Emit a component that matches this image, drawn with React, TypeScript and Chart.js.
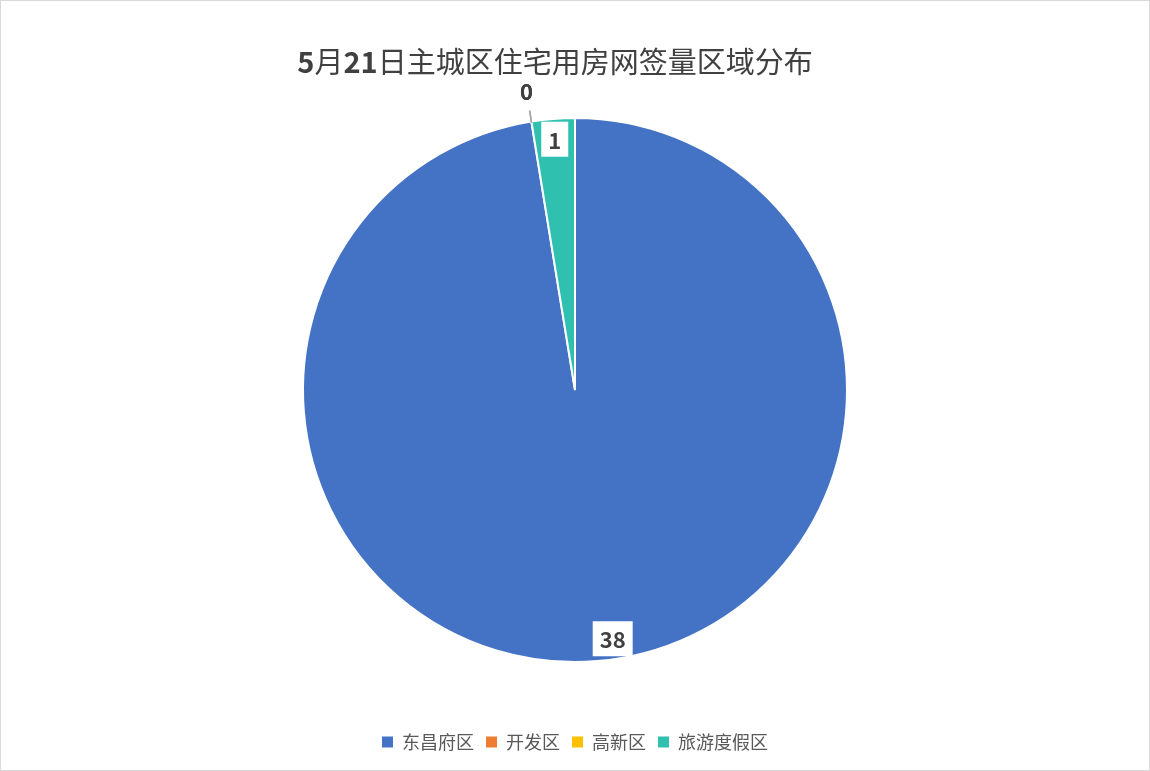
import { useEffect, useRef } from "react";
import { Chart, registerables } from "chart.js";

Chart.register(...registerables);

const districts = ["东昌府区", "开发区", "高新区", "旅游度假区"];
const signedCounts = [38, 0, 0, 1];
const sliceColors = ["#4472C4", "#ED7D31", "#FFC000", "#2FC0B0"];
// small angular nudge (degrees) for the label, like Excel's best-fit placement
const labelAngleShift = [-4, 0, 0, 0];
const titleParts: [string, boolean][] = [
  ["5", true],
  ["月", false],
  ["21", true],
  ["日主城区住宅用房网签量区域分布", false],
];

const FONT = '"Noto Sans CJK SC", "Noto Sans", sans-serif';

const titlePlugin = {
  id: "mixedTitle",
  afterDraw(chart: any) {
    const ctx = chart.ctx;
    ctx.save();
    ctx.fillStyle = "#404040";
    ctx.textBaseline = "middle";
    ctx.textAlign = "left";
    const widths = titleParts.map(([t, b]) => {
      ctx.font = `${b ? "bold" : "normal"} 29px ${FONT}`;
      return ctx.measureText(t).width;
    });
    const total = widths.reduce((a, b) => a + b, 0);
    let x = 554 - total / 2;
    titleParts.forEach(([t, b], i) => {
      ctx.font = `${b ? "bold" : "normal"} 29px ${FONT}`;
      ctx.fillText(t, x, 61);
      x += widths[i];
    });
    ctx.restore();
  },
};

const labelPlugin = {
  id: "sliceLabels",
  afterDatasetsDraw(chart: any) {
    const ctx = chart.ctx;
    const meta = chart.getDatasetMeta(0);
    ctx.save();
    ctx.font = `bold 22px ${FONT}`;
    ctx.textAlign = "center";
    ctx.textBaseline = "middle";
    meta.data.forEach((arc: any, i: number) => {
      const { x, y, startAngle, endAngle, outerRadius } = arc.getProps(
        ["x", "y", "startAngle", "endAngle", "outerRadius"],
        true
      );
      const v = signedCounts[i];
      const mid = (startAngle + endAngle) / 2 + (labelAngleShift[i] * Math.PI) / 180;
      const cos = Math.cos(mid);
      const sin = Math.sin(mid);
      const text = String(v);
      if (v > 0) {
        const r = outerRadius * 0.925;
        const lx = x + cos * r;
        const ly = y + sin * r;
        const w = ctx.measureText(text).width + 14;
        const h = 35;
        ctx.fillStyle = "#ffffff";
        ctx.fillRect(lx - w / 2, ly - h / 2, w, h);
        ctx.fillStyle = "#404040";
        ctx.fillText(text, lx, ly + 1);
      } else {
        ctx.strokeStyle = "#A6A6A6";
        ctx.lineWidth = 1.5;
        ctx.beginPath();
        ctx.moveTo(x + cos * (outerRadius - 1), y + sin * (outerRadius - 1));
        ctx.lineTo(x + cos * (outerRadius + 11), y + sin * (outerRadius + 11));
        ctx.stroke();
        ctx.fillStyle = "#404040";
        ctx.fillText(text, x + cos * (outerRadius + 30), y + sin * (outerRadius + 30));
      }
    });
    ctx.restore();
  },
};

export default function App() {
  const canvasRef = useRef<HTMLCanvasElement>(null);

  useEffect(() => {
    document.body.style.margin = "0";
    if (!canvasRef.current) return;
    const baseLabels = (Chart as any).overrides.doughnut.plugins.legend.labels.generateLabels;
    const chart = new Chart(canvasRef.current, {
      type: "pie",
      data: {
        labels: districts,
        datasets: [
          {
            data: signedCounts,
            backgroundColor: sliceColors,
            borderColor: "#ffffff",
            borderWidth: 2,
            radius: 272,
          } as any,
        ],
      },
      options: {
        animation: false,
        responsive: true,
        maintainAspectRatio: false,
        layout: { padding: { top: 58, bottom: 9, left: 0, right: 0 } },
        plugins: {
          title: { display: false },
          tooltip: { enabled: false },
          legend: {
            position: "bottom",
            labels: {
              color: "#595959",
              font: { family: FONT, size: 18 },
              boxWidth: 11,
              boxHeight: 11,
              padding: 12,
              generateLabels: (c: any) =>
                baseLabels(c).map((l: any) => ({ ...l, lineWidth: 0 })),
            },
          },
        },
      },
      plugins: [titlePlugin, labelPlugin],
    });
    return () => chart.destroy();
  }, []);

  return (
    <div
      style={{
        width: 1150,
        height: 771,
        boxSizing: "border-box",
        border: "1px solid #d9d9d9",
        background: "#ffffff",
      }}
    >
      <div style={{ position: "relative", width: 1148, height: 769 }}>
        <canvas ref={canvasRef} />
      </div>
    </div>
  );
}
